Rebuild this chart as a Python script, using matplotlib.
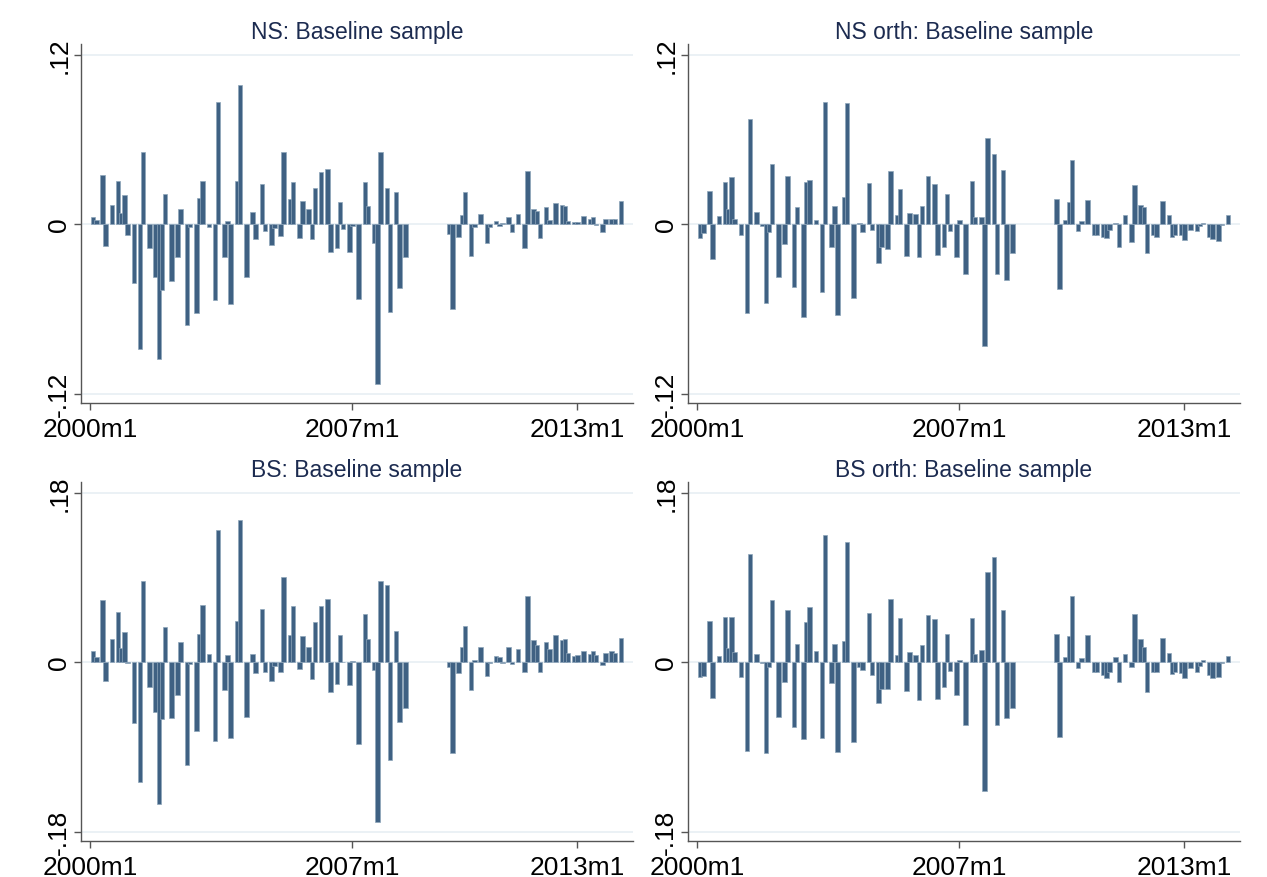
import numpy as np
import matplotlib
matplotlib.use("Agg")
import matplotlib.pyplot as plt

plt.rcParams["font.family"] = ["Liberation Sans", "DejaVu Sans"]

# FOMC meeting months used in the sample (Stata %tm style)
meetings = [
    "2000m2", "2000m3", "2000m5", "2000m6", "2000m8", "2000m10", "2000m11", "2000m12",
    "2001m1", "2001m3", "2001m5", "2001m6", "2001m8", "2001m10", "2001m11", "2001m12",
    "2002m1", "2002m3", "2002m5", "2002m6", "2002m8", "2002m9", "2002m11", "2002m12",
    "2003m1", "2003m3", "2003m5", "2003m6", "2003m8", "2003m9", "2003m10", "2003m12",
    "2004m1", "2004m3", "2004m5", "2004m6", "2004m8", "2004m9", "2004m11", "2004m12",
    "2005m2", "2005m3", "2005m5", "2005m6", "2005m8", "2005m9", "2005m11", "2005m12",
    "2006m1", "2006m3", "2006m5", "2006m6", "2006m8", "2006m9", "2006m10", "2006m12",
    "2007m1", "2007m3", "2007m5", "2007m6", "2007m8", "2007m9", "2007m10", "2007m12",
    "2008m1", "2008m3", "2008m4", "2008m6",
    "2009m8", "2009m9", "2009m11", "2009m12",
    "2010m1", "2010m3", "2010m4", "2010m6", "2010m8", "2010m9", "2010m11", "2010m12",
    "2011m1", "2011m3", "2011m4", "2011m6", "2011m8", "2011m9", "2011m11", "2011m12",
    "2012m1", "2012m3", "2012m4", "2012m6", "2012m8", "2012m9", "2012m10", "2012m12",
    "2013m1", "2013m3", "2013m5", "2013m6", "2013m7", "2013m9", "2013m10", "2013m12",
    "2014m1", "2014m3",
]

ns = [
    0.0052, 0.0028, 0.0348, -0.0153, 0.0132, 0.0308, 0.0082, 0.0207,
    -0.0075, -0.0416, -0.0882, 0.0513, -0.0169, -0.0374, -0.0953, -0.0463,
    0.0212, -0.0400, -0.0235, 0.0110, -0.0715, -0.0024, -0.0628, 0.0188,
    0.0308, -0.0021, -0.0534, 0.0864, -0.0235, 0.0024, -0.0565, 0.0306,
    0.0986, -0.0376, 0.0085, -0.0104, 0.0287, -0.0047, -0.0150, -0.0028,
    -0.0082, 0.0510, 0.0176, 0.0300, -0.0099, 0.0162, 0.0106, -0.0106,
    0.0254, 0.0370, 0.0390, -0.0198, -0.0170, 0.0155, -0.0033, -0.0200,
    -0.0017, -0.0530, 0.0296, 0.0125, -0.0134, -0.1130, 0.0508, 0.0254,
    -0.0624, 0.0224, -0.0452, -0.0230,
    -0.0073, -0.0598, -0.0094, 0.0066,
    0.0228, -0.0224, -0.0024, 0.0068, -0.0134, -0.0024, 0.0019, -0.0016,
    0.0008, 0.0047, -0.0059, 0.0073, -0.0170, 0.0374, 0.0106, 0.0092,
    -0.0096, 0.0120, 0.0030, 0.0150, 0.0132, 0.0127, 0.0021, 0.0014,
    0.0014, 0.0059, 0.0035, 0.0049, -0.0007, -0.0054, 0.0038, 0.0038,
    0.0038, 0.0162,
]

ns_orth = [
    -0.0099, -0.0063, 0.0235, -0.0244, 0.0056, 0.0300, 0.0106, 0.0334,
    0.0035, -0.0075, -0.0630, 0.0745, 0.0085, -0.0012, -0.0557, -0.0059,
    0.0428, -0.0371, -0.0139, 0.0343, -0.0442, 0.0118, -0.0658, 0.0296,
    0.0310, 0.0031, -0.0484, 0.0865, -0.0162, 0.0129, -0.0644, 0.0193,
    0.0860, -0.0524, 0.0005, -0.0054, 0.0292, -0.0042, -0.0278, -0.0160,
    -0.0176, 0.0376, 0.0066, 0.0247, -0.0223, 0.0078, 0.0070, -0.0233,
    0.0129, 0.0343, 0.0285, -0.0216, -0.0162, 0.0210, -0.0052, -0.0233,
    0.0030, -0.0353, 0.0308, 0.0047, 0.0047, -0.0865, 0.0607, 0.0494,
    -0.0353, 0.0383, -0.0393, -0.0207,
    0.0176, -0.0456, 0.0030, 0.0155,
    0.0451, -0.0052, 0.0024, 0.0169, -0.0080, -0.0075, -0.0092, -0.0099,
    -0.0040, 0.0010, -0.0162, 0.0066, -0.0127, 0.0275, 0.0136, 0.0118,
    -0.0207, -0.0075, -0.0094, 0.0162, 0.0066, -0.0089, -0.0080, -0.0075,
    -0.0113, -0.0040, -0.0052, -0.0016, 0.0007, -0.0094, -0.0108, -0.0122,
    -0.0005, 0.0066,
]

bs = [
    0.0116, 0.0053, 0.0658, -0.0204, 0.0243, 0.0535, 0.0148, 0.0320,
    -0.0010, -0.0644, -0.1270, 0.0866, -0.0264, -0.0528, -0.1506, -0.0602,
    0.0373, -0.0591, -0.0352, 0.0215, -0.1088, -0.0020, -0.0732, 0.0303,
    0.0602, 0.0084, -0.0838, 0.1404, -0.0292, 0.0070, -0.0806, 0.0440,
    0.1513, -0.0584, 0.0088, -0.0116, 0.0560, -0.0100, -0.0197, -0.0046,
    -0.0100, 0.0898, 0.0292, 0.0598, -0.0074, 0.0282, 0.0162, -0.0180,
    0.0422, 0.0598, 0.0669, -0.0320, -0.0232, 0.0285, -0.0003, -0.0246,
    0.0007, -0.0873, 0.0507, 0.0250, -0.0088, -0.1700, 0.0866, 0.0817,
    -0.1038, 0.0334, -0.0634, -0.0486,
    -0.0053, -0.0968, -0.0116, 0.0155,
    0.0384, -0.0296, 0.0018, 0.0162, -0.0151, -0.0007, 0.0060, 0.0053,
    -0.0014, 0.0162, -0.0018, 0.0144, -0.0106, 0.0700, 0.0236, 0.0183,
    -0.0106, 0.0218, 0.0137, 0.0292, 0.0236, 0.0243, 0.0095, 0.0060,
    0.0070, 0.0123, 0.0081, 0.0116, 0.0070, -0.0028, 0.0092, 0.0123,
    0.0092, 0.0260,
]

bs_orth = [
    -0.0162, -0.0144, 0.0433, -0.0380, 0.0067, 0.0475, 0.0148, 0.0475,
    0.0106, -0.0158, -0.0940, 0.1148, 0.0088, -0.0010, -0.0961, -0.0053,
    0.0655, -0.0580, -0.0215, 0.0553, -0.0686, 0.0194, -0.0813, 0.0426,
    0.0580, 0.0123, -0.0810, 0.1350, -0.0222, 0.0190, -0.0954, 0.0229,
    0.1274, -0.0848, -0.0053, -0.0088, 0.0524, -0.0137, -0.0433, -0.0289,
    -0.0289, 0.0669, 0.0077, 0.0465, -0.0306, 0.0109, 0.0070, -0.0405,
    0.0183, 0.0503, 0.0461, -0.0387, -0.0264, 0.0299, -0.0099, -0.0348,
    0.0025, -0.0669, 0.0472, 0.0088, 0.0130, -0.1366, 0.0954, 0.1112,
    -0.0669, 0.0556, -0.0598, -0.0486,
    0.0299, -0.0796, 0.0049, 0.0278,
    0.0697, -0.0067, 0.0039, 0.0285, -0.0109, -0.0109, -0.0137, -0.0169,
    -0.0106, 0.0056, -0.0211, 0.0088, -0.0053, 0.0514, 0.0246, 0.0158,
    -0.0317, -0.0106, -0.0106, 0.0260, 0.0095, -0.0123, -0.0106, -0.0120,
    -0.0169, -0.0067, -0.0106, -0.0046, 0.0025, -0.0137, -0.0169, -0.0158,
    -0.0005, 0.0067,
]

xtick_labels = ["2000m1", "2007m1", "2013m1"]


def tm(s):
    # months since 2000m1
    y, m = s.split("m")
    return (int(y) - 2000) * 12 + int(m) - 1


def ylab(v):
    if v == 0:
        return "0"
    return ("-" if v < 0 else "") + ("%g" % abs(v)).lstrip("0")


x = np.array([tm(s) for s in meetings])
xticks = [tm(s) for s in xtick_labels]

W, H = 1267, 878
fig = plt.figure(figsize=(W / 100, H / 100), dpi=100)
fig.patch.set_facecolor("white")

bar_col = "#3f6183"
grid_col = "#e6eef2"
title_col = "#1c2b50"

panels = [
    (ns, "NS: Baseline sample", 81, 45, 0.12),
    (ns_orth, "NS orth: Baseline sample", 688, 45, 0.12),
    (bs, "BS: Baseline sample", 81, 483, 0.18),
    (bs_orth, "BS orth: Baseline sample", 688, 483, 0.18),
]

for vals, title, px, py, lim in panels:
    pw, ph = 552, 359
    ax = fig.add_axes([px / W, (H - py - ph) / H, pw / W, ph / H])
    ax.bar(x, vals, width=1.45, color=bar_col, edgecolor="#8ea5ba",
           linewidth=0.5, zorder=3)
    ax.set_xlim(-2.9, 173.8)
    ax.set_ylim(-lim * 1.055, lim * 1.062)
    yt = [-lim, 0, lim]
    ax.set_yticks(yt)
    ax.set_yticklabels([ylab(v) for v in yt], rotation=90, va="center",
                       fontsize=19)
    for v in yt:
        ax.axhline(v, color=grid_col, lw=1.1, zorder=1)
    ax.set_xticks(xticks)
    ax.set_xticklabels(xtick_labels, fontsize=19)
    for s in ["top", "right"]:
        ax.spines[s].set_visible(False)
    for s in ["left", "bottom"]:
        ax.spines[s].set_color("#555555")
        ax.spines[s].set_linewidth(1.0)
    ax.tick_params(direction="out", length=5, width=1, color="#555555", pad=2)
    ax.tick_params(axis="x", pad=5)
    ax.text(0.5, 1 + 12 / ph, title, transform=ax.transAxes, ha="center",
            va="center", fontsize=16.5, color=title_col)

fig.savefig("out.png", dpi=100, facecolor="white")
